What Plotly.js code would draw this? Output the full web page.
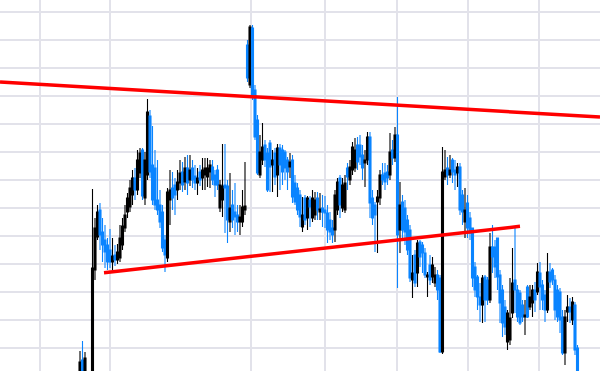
<!DOCTYPE html>
<html>
<head>
<meta charset="utf-8">
<script src="https://cdn.plot.ly/plotly-3.0.1.min.js"></script>
<style>
  html, body { margin: 0; padding: 0; background: #ffffff; }
  #chart { width: 600px; height: 371px; }
</style>
</head>
<body>
<div id="chart"></div>
<script>
// OHLC values (one session per slot, null = no trade)
const open = [
  24,40,22,null,null,5,130,163,190,168,
  160,155,150,138,145,140,142,155,172,188,
  193,205,222,210,227,250,202,225,284,235,
  232,200,195,188,160,142,200,212,215,210,
  217,228,218,232,220,232,224,217,228,222,
  225,223,228,233,225,230,192,200,215,214,
  178,195,188,185,178,178,190,355,315,372,
  310,280,225,240,255,247,257,235,247,225,
  252,250,248,240,233,240,217,212,205,173,
  202,182,200,182,185,202,188,192,190,187,
  180,172,170,190,222,192,190,232,220,230,
  232,255,255,245,237,240,263,202,195,198,
  202,225,227,228,225,250,242,265,170,198,
  192,180,170,120,145,127,158,155,147,123,
  135,123,117,125,122,48,223,232,225,240,
  230,227,233,205,178,197,182,172,133,123,
  103,95,123,120,100,153,153,162,125,110,
  93,58,60,87,120,110,107,95,83,113,
  93,97,110,108,127,115,105,90,128,130,
  120,110,108,83,47,88,93,80,95,52
];
const high = [
  49,59,48,null,null,211,182,195,197,182,
  175,162,171,162,155,156,175,182,195,207,
  220,230,232,250,252,252,248,301,290,274,
  250,240,210,195,165,212,230,228,222,230,
  240,238,243,245,245,240,235,232,235,242,
  242,242,240,240,230,235,220,256,256,220,
  227,210,217,195,195,210,238,360,375,375,
  315,285,265,277,260,252,260,250,252,256,
  256,255,250,243,247,245,225,217,210,203,
  205,204,204,210,208,208,207,205,204,195,
  188,180,210,222,225,222,225,237,240,258,
  262,263,265,255,250,268,268,210,198,210,
  230,237,237,235,267,260,273,303,218,205,
  200,185,175,145,150,160,160,158,152,128,
  145,143,133,130,125,253,250,243,245,242,
  240,237,237,210,212,205,188,172,138,125,
  117,125,125,123,167,175,160,162,130,115,
  100,90,122,152,172,115,110,100,100,115,
  115,115,118,137,138,120,110,147,137,132,
  125,115,112,90,90,105,102,103,98,55
];
const low = [
  15,15,15,null,null,0,120,160,150,138,
  132,130,132,130,134,136,138,150,168,182,
  188,195,200,205,222,200,195,220,222,195,
  190,185,172,148,128,138,175,190,185,200,
  210,208,210,205,214,212,210,205,214,210,
  210,213,212,215,203,210,188,183,167,157,
  168,172,165,168,165,173,185,318,312,300,
  260,225,222,235,233,208,208,208,215,203,
  210,215,220,210,222,197,195,185,173,168,
  175,170,173,178,180,180,180,173,172,157,
  160,157,158,185,182,188,187,210,215,225,
  228,230,235,220,213,235,182,175,148,147,
  195,215,210,215,220,235,238,112,147,160,
  155,145,118,102,113,113,133,127,122,103,
  115,117,113,100,47,46,220,215,222,217,
  210,213,185,175,162,162,160,113,103,90,
  78,77,78,95,97,127,122,110,77,63,
  65,50,55,82,87,78,75,78,65,82,
  90,83,88,105,90,90,78,87,112,115,
  80,78,67,45,35,78,77,75,45,5
];
const close = [
  38,25,42,null,null,132,172,188,165,155,
  148,138,138,144,140,148,162,174,185,202,
  212,222,210,240,247,204,240,288,228,200,
  195,190,178,152,145,208,210,202,205,218,
  227,215,232,217,230,220,217,222,220,230,
  232,232,235,220,215,215,215,214,212,180,
  192,180,183,178,183,193,194,322,373,303,
  263,227,248,253,240,210,233,240,223,252,
  235,228,232,228,238,203,198,190,183,185,
  180,202,193,202,200,190,191,188,187,170,
  168,165,205,218,195,215,217,223,233,253,
  250,238,243,232,240,263,197,182,185,203,
  225,220,218,222,248,242,265,165,195,170,
  168,150,122,127,117,157,143,147,125,125,
  120,135,125,110,48,228,230,225,230,228,
  225,233,190,188,190,172,167,122,110,103,
  95,122,100,100,153,143,133,123,97,77,
  73,87,82,117,110,83,77,83,85,83,
  103,110,100,128,113,100,90,128,118,120,
  90,83,80,47,83,93,88,98,50,10
];
const session = open.map((_, i) => i);

// Hand-drawn trend lines (endpoints in session / price units)
const resistX = [-32, 208];
const resistY = [318, 283];
const supportX = [9.6, 176];
const supportY = [127.3, 173.7];

// Vertical grid positions (session units)
const gridSessions = [-16, 12, 68.4, 98, 126.8, 155.2, 183.6];

const UP = '#000000';
const DOWN = '#0a84ff';
const GRID = '#e2e2ea';

const traces = [
  {
    type: 'candlestick',
    x: session, open: open, high: high, low: low, close: close,
    increasing: { line: { color: UP, width: 1.1 }, fillcolor: UP },
    decreasing: { line: { color: DOWN, width: 1.1 }, fillcolor: DOWN },
    whiskerwidth: 0,
    hoverinfo: 'skip',
    showlegend: false
  },
  {
    type: 'scatter', mode: 'lines',
    x: resistX, y: resistY,
    line: { color: '#ff0000', width: 3.5 },
    hoverinfo: 'skip', showlegend: false
  },
  {
    type: 'scatter', mode: 'lines',
    x: supportX, y: supportY,
    line: { color: '#ff0000', width: 3.5 },
    hoverinfo: 'skip', showlegend: false
  }
];

const layout = {
  width: 600, height: 371,
  margin: { l: 0, r: 0, t: 0, b: 0, pad: 0 },
  paper_bgcolor: '#ffffff',
  plot_bgcolor: '#ffffff',
  showlegend: false,
  boxgap: 0.2,
  boxgroupgap: 0,
  xaxis: {
    range: [-32, 208],
    tickmode: 'array', tickvals: gridSessions,
    showticklabels: false, ticks: '',
    showgrid: true, gridcolor: GRID, gridwidth: 1.5,
    zeroline: false, showline: false,
    rangeslider: { visible: false }
  },
  yaxis: {
    range: [29, 400],
    tick0: 52, dtick: 28,
    showticklabels: false, ticks: '',
    showgrid: true, gridcolor: GRID, gridwidth: 1.5,
    zeroline: false, showline: false
  }
};

Plotly.newPlot('chart', traces, layout, { staticPlot: true, displayModeBar: false });
</script>
</body>
</html>
